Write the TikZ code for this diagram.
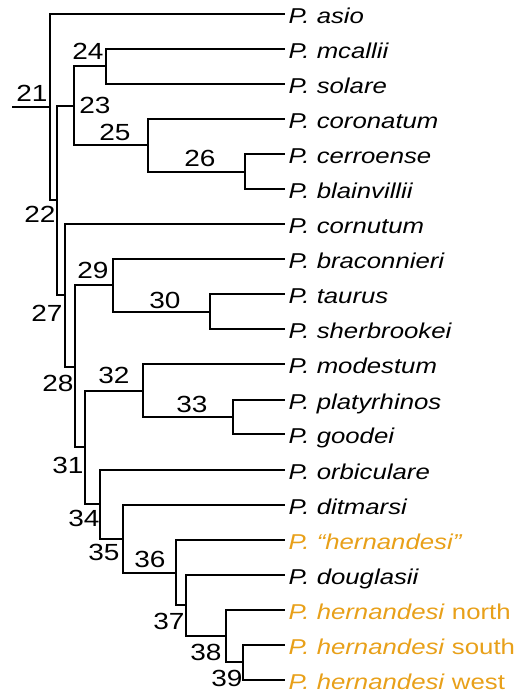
\documentclass[tikz,border=0pt]{standalone}
\usepackage{fontspec}
\setmainfont{Liberation Sans}
\newfontfamily\treefont[FakeStretch=1.2]{Liberation Sans}
\definecolor{taxorange}{RGB}{232,160,25}
\tikzset{
  branch/.style={line width=1.5pt, line join=miter},
  taxon/.style={anchor=west, inner xsep=2.5pt, inner ysep=0pt,
    text height=13.5pt, text depth=0pt,
    font=\treefont\fontsize{16.1pt}{18pt}\selectfont},
  clade/.style={anchor=center, inner sep=0pt, text height=12.5pt, text depth=0pt,
    font=\treefont\fontsize{17.5pt}{20pt}\selectfont},
  newtaxon/.style={taxon, text=taxorange}
}
\begin{document}
\begin{tikzpicture}[x=0.75pt, y=-0.75pt]
\useasboundingbox (0,0) rectangle (524,693);

% terminal taxa
\node[taxon] (l1)  at (285, 14) {\itshape P. asio};
\node[taxon] (l2)  at (285, 49) {\itshape P. mcallii};
\node[taxon] (l3)  at (285, 84) {\itshape P. solare};
\node[taxon] (l4)  at (285,119) {\itshape P. coronatum};
\node[taxon] (l5)  at (285,154) {\itshape P. cerroense};
\node[taxon] (l6)  at (285,189) {\itshape P. blainvillii};
\node[taxon] (l7)  at (285,224) {\itshape P. cornutum};
\node[taxon] (l8)  at (285,259) {\itshape P. braconnieri};
\node[taxon] (l9)  at (285,294) {\itshape P. taurus};
\node[taxon] (l10) at (285,329) {\itshape P. sherbrookei};
\node[taxon] (l11) at (285,364) {\itshape P. modestum};
\node[taxon] (l12) at (285,400) {\itshape P. platyrhinos};
\node[taxon] (l13) at (285,434) {\itshape P. goodei};
\node[taxon] (l14) at (285,470) {\itshape P. orbiculare};
\node[taxon] (l15) at (285,505) {\itshape P. ditmarsi};
\node[newtaxon] (l16) at (285,540) {\itshape P. “hernandesi”};
\node[taxon] (l17) at (285,575) {\itshape P. douglasii};
\node[newtaxon] (l18) at (285,610) {\textit{P. hernandesi} north};
\node[newtaxon] (l19) at (285,645) {\textit{P. hernandesi} south};
\node[newtaxon] (l20) at (285,680) {\textit{P. hernandesi} west};

% internal nodes
\coordinate (root) at (12,107);
\coordinate (n21) at (50,107);
\coordinate (n22) at (57,200);
\coordinate (n23) at (74,106);
\coordinate (n24) at (106,66);
\coordinate (n25) at (148,145);
\coordinate (n26) at (245,172);
\coordinate (n27) at (65,295);
\coordinate (n28) at (75,367);
\coordinate (n29) at (113,285);
\coordinate (n30) at (210,312);
\coordinate (n31) at (85,447);
\coordinate (n32) at (143,391);
\coordinate (n33) at (233,417);
\coordinate (n34) at (100,504);
\coordinate (n35) at (123,539);
\coordinate (n36) at (176,573);
\coordinate (n37) at (186,605);
\coordinate (n38) at (226,636);
\coordinate (n39) at (243,662);

% branches
\draw[branch] (root) -- (n21);
\draw[branch] (n21) |- (l1.west);
\draw[branch] (n21) |- (n22);
\draw[branch] (n22) |- (n23);
\draw[branch] (n22) |- (n27);
\draw[branch] (n23) |- (n24);
\draw[branch] (n23) |- (n25);
\draw[branch] (n24) |- (l2.west);
\draw[branch] (n24) |- (l3.west);
\draw[branch] (n25) |- (l4.west);
\draw[branch] (n25) |- (n26);
\draw[branch] (n26) |- (l5.west);
\draw[branch] (n26) |- (l6.west);
\draw[branch] (n27) |- (l7.west);
\draw[branch] (n27) |- (n28);
\draw[branch] (n28) |- (n29);
\draw[branch] (n28) |- (n31);
\draw[branch] (n29) |- (l8.west);
\draw[branch] (n29) |- (n30);
\draw[branch] (n30) |- (l9.west);
\draw[branch] (n30) |- (l10.west);
\draw[branch] (n31) |- (n32);
\draw[branch] (n31) |- (n34);
\draw[branch] (n32) |- (l11.west);
\draw[branch] (n32) |- (n33);
\draw[branch] (n33) |- (l12.west);
\draw[branch] (n33) |- (l13.west);
\draw[branch] (n34) |- (l14.west);
\draw[branch] (n34) |- (n35);
\draw[branch] (n35) |- (l15.west);
\draw[branch] (n35) |- (n36);
\draw[branch] (n36) |- (l16.west);
\draw[branch] (n36) |- (n37);
\draw[branch] (n37) |- (l17.west);
\draw[branch] (n37) |- (n38);
\draw[branch] (n38) |- (l18.west);
\draw[branch] (n38) |- (n39);
\draw[branch] (n39) |- (l19.west);
\draw[branch] (n39) |- (l20.west);

% clade numbers
\node[clade] (c21) at (32,93) {21};
\node[clade] (c22) at (40,214) {22};
\node[clade] (c23) at (95,105) {23};
\node[clade] (c24) at (88,51) {24};
\node[clade] (c25) at (115,132) {25};
\node[clade] (c26) at (200,158) {26};
\node[clade] (c27) at (47,313) {27};
\node[clade] (c28) at (58,383) {28};
\node[clade] (c29) at (93,270) {29};
\node[clade] (c30) at (165,300) {30};
\node[clade] (c31) at (68,465) {31};
\node[clade] (c32) at (114,375) {32};
\node[clade] (c33) at (192,404) {33};
\node[clade] (c34) at (84,518) {34};
\node[clade] (c35) at (104,552) {35};
\node[clade] (c36) at (150,559) {36};
\node[clade] (c37) at (169,621) {37};
\node[clade] (c38) at (206,652) {38};
\node[clade] (c39) at (227,678) {39};
\end{tikzpicture}
\end{document}
